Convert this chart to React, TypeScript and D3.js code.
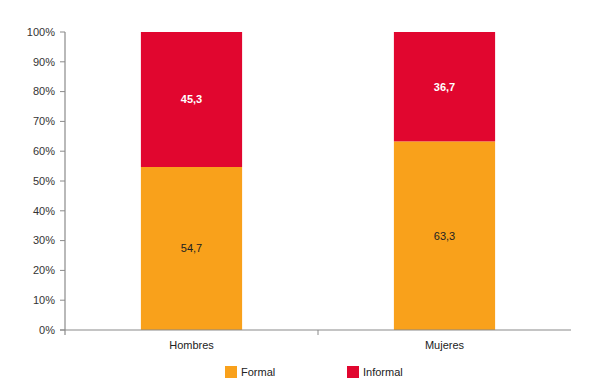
import React from "react";
import * as d3 from "d3";

const categories = ["Hombres", "Mujeres"];
const seriesNames = ["Formal", "Informal"];
const formalValues = [54.7, 63.3];
const informalValues = [45.3, 36.7];
const yTicks = [0, 10, 20, 30, 40, 50, 60, 70, 80, 90, 100];

const colors: Record<string, string> = { Formal: "#F9A11B", Informal: "#E1062F" };
const labelColors: Record<string, string> = { Formal: "#222222", Informal: "#FFFFFF" };

export default function App() {
  const W = 600, H = 391;
  const left = 65, right = 571, top = 32, bottom = 330;
  const x = d3.scaleBand<string>().domain(categories).range([left, right]).paddingInner(0.6).paddingOuter(0.3);
  const y = d3.scaleLinear().domain([0, 100]).range([bottom, top]);

  const rows = categories.map((c, i) => ({ cat: c, Formal: formalValues[i], Informal: informalValues[i] }));
  const stacked = d3.stack<any>().keys(seriesNames)(rows);
  const font = "Arial, 'Liberation Sans', sans-serif";
  const axisColor = "#8a8a8a";

  return (
    <svg width={W} height={H} style={{ position: "absolute", left: 0, top: 0 }} fontFamily={font}>
      <rect width={W} height={H} fill="#fff" />
      {stacked.map((s) => (
        <g key={s.key}>
          {s.map((d, i) => {
            const x0 = x(categories[i])!;
            const y0 = y(d[1]);
            const y1 = y(d[0]);
            const v = d[1] - d[0];
            return (
              <g key={i}>
                <rect x={x0} y={y0} width={x.bandwidth()} height={y1 - y0} fill={colors[s.key]} />
                <text
                  x={x0 + x.bandwidth() / 2}
                  y={(y0 + y1) / 2}
                  dy="0.35em"
                  textAnchor="middle"
                  fontSize={11}
                  fontWeight={s.key === "Informal" ? "bold" : "normal"}
                  fill={labelColors[s.key]}
                >
                  {v.toFixed(1).replace(".", ",")}
                </text>
              </g>
            );
          })}
        </g>
      ))}
      {/* y axis */}
      <line x1={left} x2={left} y1={top} y2={bottom + 5} stroke={axisColor} strokeWidth={1.2} />
      {yTicks.map((t) => (
        <g key={t}>
          <line x1={left - 5} x2={left} y1={y(t)} y2={y(t)} stroke={axisColor} strokeWidth={1} />
          <text x={left - 10} y={y(t)} dy="0.35em" textAnchor="end" fontSize={11} fill="#333">
            {t}%
          </text>
        </g>
      ))}
      {/* x axis */}
      <line x1={left - 5} x2={right} y1={bottom} y2={bottom} stroke={axisColor} strokeWidth={1.2} />
      <line x1={(left + right) / 2} x2={(left + right) / 2} y1={bottom} y2={bottom + 5} stroke={axisColor} strokeWidth={1} />
      {categories.map((c) => (
        <text key={c} x={x(c)! + x.bandwidth() / 2} y={bottom + 15} dy="0.35em" textAnchor="middle" fontSize={11} fill="#222">
          {c}
        </text>
      ))}
      {/* legend */}
      {seriesNames.map((n, i) => {
        const lx = i === 0 ? 225 : 347;
        return (
          <g key={n}>
            <rect x={lx} y={366} width={12} height={12} fill={colors[n]} />
            <text x={lx + 16} y={372} dy="0.35em" fontSize={11} fill="#222">
              {n}
            </text>
          </g>
        );
      })}
    </svg>
  );
}
